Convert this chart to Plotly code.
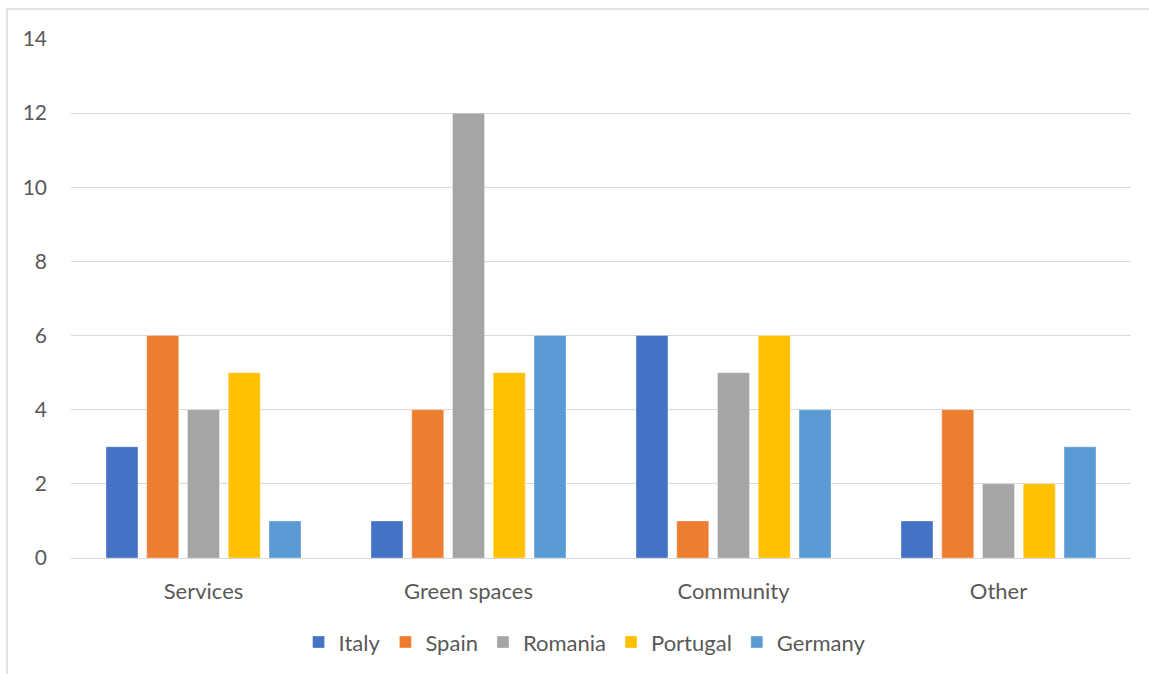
import plotly.graph_objects as go

# Survey counts per category and country
categories = ["Services", "Green spaces", "Community", "Other"]
italy = [3, 1, 6, 1]
spain = [6, 4, 1, 4]
romania = [4, 12, 5, 2]
portugal = [5, 5, 6, 2]
germany = [1, 6, 4, 3]

series = [
    ("Italy", italy, "#4472C4"),
    ("Spain", spain, "#ED7D31"),
    ("Romania", romania, "#A5A5A5"),
    ("Portugal", portugal, "#FFC000"),
    ("Germany", germany, "#5B9BD5"),
]

fig = go.Figure()
for name, vals, color in series:
    fig.add_trace(go.Bar(
        x=categories, y=vals, name=name,
        marker=dict(color=color, line=dict(color="rgba(255,255,255,0.35)", width=1)),
    ))

font_family = "Lato, Open Sans, sans-serif"
text_color = "#595959"

fig.update_layout(
    width=1149, height=674,
    margin=dict(l=71, r=18, t=39, b=115),
    paper_bgcolor="white", plot_bgcolor="white",
    barmode="group", bargap=0.231, bargroupgap=0.215,
    font=dict(family=font_family, size=22, color=text_color),
    showlegend=True,
    legend=dict(
        orientation="h", x=0.4845, xanchor="center", y=-0.16, yanchor="middle",
        font=dict(size=22, color=text_color), itemwidth=30,
        traceorder="normal",
    ),
    xaxis=dict(
        showgrid=False, showline=False, ticks="",
        tickfont=dict(size=22, color=text_color),
        ticklabelstandoff=18,
    ),
    yaxis=dict(
        range=[0, 14], dtick=2, tick0=0,
        showgrid=True, gridcolor="#D9D9D9", gridwidth=1,
        zeroline=True, zerolinecolor="#D9D9D9", zerolinewidth=1,
        showline=False, ticks="",
        tickfont=dict(size=21, color=text_color),
        ticklabelstandoff=23,
    ),
)

# Chart-area frame (left and top edges fall inside the page)
fig.add_shape(
    type="rect", xref="paper", yref="paper",
    x0=(7 - 71) / 1060, x1=(1160 - 71) / 1060,
    y0=(559 - 690) / 520, y1=(559 - 9) / 520,
    line=dict(color="#D9D9D9", width=1.5), fillcolor="rgba(0,0,0,0)",
    layer="below",
)

fig.write_html("out.html")
